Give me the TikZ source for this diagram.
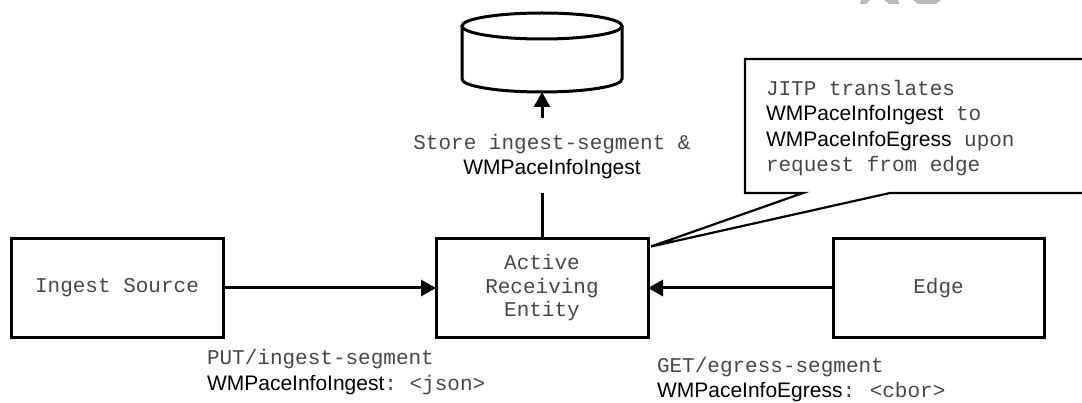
\documentclass[tikz,border=0pt]{standalone}
\usepackage{fontspec}
\setmainfont{Liberation Sans}
\setmonofont{Liberation Mono}
\usetikzlibrary{arrows.meta}
\definecolor{monoink}{gray}{0.28}
\newcommand{\mn}[1]{{\ttfamily\color{monoink}#1}}
\tikzset{
  basenode/.style={inner sep=0pt,outer sep=0pt},
  boxnode/.style={basenode,draw=black,line width=3pt,minimum height=99pt,align=center,font=\fontsize{21}{23.5}\ttfamily,text=monoink},
  textleft/.style={basenode,align=left,anchor=north west,font=\fontsize{21}{26}\selectfont},
  textcentre/.style={basenode,align=center,font=\fontsize{21}{24.5}\selectfont},
  flowline/.style={line width=3pt,-{Triangle[length=15pt,width=16pt]}},
  plainline/.style={line width=3pt},
  wmark/.style={fill=black!27,draw=none}
}
\begin{document}
\begin{tikzpicture}[x=1pt,y=-1pt]
\useasboundingbox (0,0) rectangle (1082,403);
\clip (0,0) rectangle (1082,403);
% watermark fragment
\fill[wmark] (861,0) -- (870,0) -- (866,4) -- (860,4) -- cycle;
\fill[wmark] (884,0) -- (898,0) -- (899,4) -- (889,4) -- cycle;
\fill[wmark] (913,0) -- (941,0) -- (936,4) -- (918,4) -- cycle;
% boxes
\node[boxnode,minimum width=212pt] (source) at (117,288) {\raisebox{-1.5pt}{Ingest Source}};
\node[boxnode,minimum width=212pt] (are) at (542,288) {Active\\Receiving\\Entity};
\node[boxnode,minimum width=211pt] (edge) at (938.5,288) {\raisebox{-1pt}{Edge}};
% store: a cylinder drawn over its named node
\node[basenode,minimum width=160pt,minimum height=79pt] (store) at (542,52.5) {};
\draw[line width=3pt,fill=white] (462,26) -- (462,79) .. controls (462,86.2) and (497.8,92) .. (542,92) .. controls (586.2,92) and (622,86.2) .. (622,79) -- (622,26);
\draw[line width=3pt,fill=white] (542,26) ellipse [x radius=80,y radius=13];
% labels
\node[textcentre] (storelabel) at (552,156.5) {\mn{Store ingest-segment \&}\\WMPaceInfoIngest};
\node[textleft] (putlabel) at (207,349) {\mn{PUT/ingest-segment}\\WMPaceInfoIngest\mn{: <json>}};
\node[textleft,font=\fontsize{21}{25}\selectfont] (getlabel) at (657,357.5) {\mn{GET/egress-segment}\\WMPaceInfoEgress\mn{:\hspace{2pt} <cbor>}};
% connectors
\coordinate (arrowstart) at (542,118);
\coordinate (lineend) at (542,193);
\draw[flowline] (source.east) -- (are.west);
\draw[flowline] (edge.west) -- (are.east);
\draw[plainline] (are.north) -- (lineend);
\draw[flowline] (arrowstart) -- (store.south);
% callout
\coordinate (tip) at (are.north east);
\coordinate (tipmark) at ([shift={(3,8)}]tip);
\draw[line width=2.2pt,fill=white] (745,59) -- (1095,59) -- (1095,193) -- (890,193) -- (tipmark) -- (803,193) -- (745,193) -- cycle;
\node[textleft,font=\fontsize{21}{25.5}\selectfont] (note) at (766,80) {\mn{JITP translates}\\WMPaceInfoIngest\mn{\ to}\\WMPaceInfoEgress\mn{\ upon}\\\mn{request from edge}};
\end{tikzpicture}
\end{document}
